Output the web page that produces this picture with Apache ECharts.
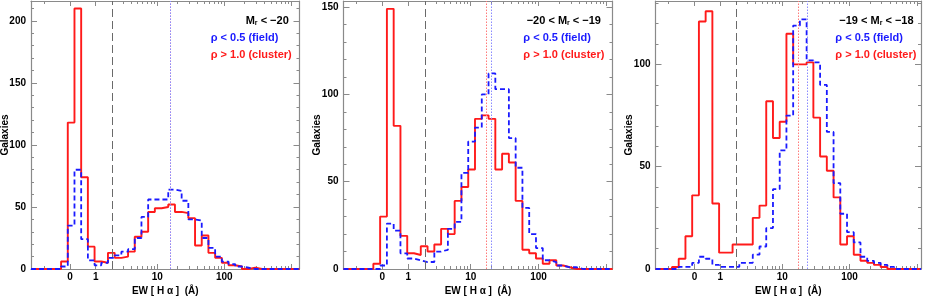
<!DOCTYPE html>
<html><head><meta charset="utf-8">
<script src="https://cdn.jsdelivr.net/npm/echarts@6/dist/echarts.min.js"></script>
<style>html,body{margin:0;padding:0;background:#fff}#c{width:926px;height:297px}</style>
</head><body><div id="c"></div>
<script>
// x axis is asinh(EW); histogram bins are uniform in asinh(EW)
const binStart = -1.227;
const binWidth = 0.23;
const labelEW = [0, 1, 10, 100];
const majorTickEW = [0, 1, 10, 100, 1000];
const minorTickEW = [-1, 2, 3, 4, 5, 6, 7, 8, 9, 20, 30, 40, 50, 60, 70, 80, 90, 200, 300, 400, 500, 600, 700, 800, 900];
const yLabels = [[0, 50, 100, 150, 200], [0, 50, 100, 150], [0, 50, 100]];
const yMax = [216, 153.5, 131];
const xRange = [[-1.34, 7.88], [-1.32, 7.81], [-1.33, 7.74]];

const red1  = [0,0,0,0, 6,118,210,74,18,6,5,13,9,10, 14,26,30,46,49,50,52,46,45,41, 19,27,13,9,5,3,2,0,1,0, 0,0,0,0,0];
const blue1 = [0,0,0,0, 2,35,80,24,7,3,5,9,11,14, 16,25,42,56,56,56,64,63,55,40, 39,25,17,10,6,4,2,1,0,0, 0,0,0,0,0];
const red2  = [0,0,0,0, 3,30,149,82,19,9,8,13,10,14, 23,20,39,47,57,86,88,86,57,66, 61,39,11,9,6,3,5,2,1,0, 0,0,0,0,0];
const blue2 = [0,0,0,0, 0,2,26,22,9,6,5,4,4,10, 11,23,27,55,73,81,100,112,103,103, 75,58,35,20,12,5,4,2,1,1, 0,0,0,0,0];
const red3  = [0,0,1,5, 16,36,121,126,32,8,8,12,12,12, 25,31,82,64,72,115,100,100,101,74, 55,48,35,12,16,7,4,3,2,1, 0,0,0,0,0];
const blue3 = [0,0,0,1, 1,3,6,5,2,1,1,1,3,3, 7,11,20,39,58,75,119,122,102,101, 90,67,42,27,18,13,6,4,3,2, 1,0,0,0,0];

const thresholdEW = 2;
const medianRed = [15.4, 16.7, 17.4];
const medianBlue = [15.8, 20.5, 23.9];

const magLabels = [['', ' < −20'], ['−20 <', ' < −19'], ['−19 <', ' < −18']];
const fieldLabel = 'ρ < 0.5 (field)';
const clusterLabel = 'ρ > 1.0 (cluster)';

const grids = [
  {left: 31, top: 1, width: 268.5, height: 268},
  {left: 343.5, top: 1, width: 269, height: 268},
  {left: 655.5, top: 1, width: 265.5, height: 268}
].map(g => Object.assign(g, {containLabel: false, outerBoundsMode: 'none'}));
const textPos = [
  {mx: 245.7, rx: 210.7},
  {mx: 526.7, rx: 523.3},
  {mx: 839.3, rx: 835.3}
];

const FONT = '"Liberation Sans", Arial, Helvetica, sans-serif';
const AX = '#8a8a8a';
const ash = Math.asinh;

function xAxes(g) {
  const r = xRange[g];
  const base = {gridIndex: g, type: 'value', min: r[0], max: r[1], splitLine: {show: false}};
  const tickStyle = {color: AX, width: 1};
  return [
    Object.assign({}, base, {
      position: 'bottom',
      axisLine: {show: true, onZero: false, lineStyle: {color: AX, width: 1.2}},
      axisTick: {show: true, inside: true, length: 5, customValues: majorTickEW.map(ash), lineStyle: tickStyle},
      axisLabel: {show: true, customValues: labelEW.map(ash), margin: 3, color: '#000', fontWeight: 'bold', fontSize: 10, fontFamily: FONT,
        formatter: v => String(Math.round(Math.sinh(v)))},
      name: 'EW [ H α ]  (Å)', nameLocation: 'middle', nameGap: 17, nameMoveOverlap: false,
      nameTextStyle: {color: '#000', fontWeight: 'bold', fontSize: 10, fontFamily: FONT}
    }),
    Object.assign({}, base, {
      position: 'bottom', axisLine: {show: false, onZero: false},
      axisTick: {show: true, inside: true, length: 3, customValues: minorTickEW.map(ash), lineStyle: tickStyle},
      axisLabel: {show: false}
    }),
    Object.assign({}, base, {
      position: 'top',
      axisLine: {show: true, onZero: false, lineStyle: {color: AX, width: 1.2}},
      axisTick: {show: true, inside: true, length: 5, customValues: majorTickEW.map(ash), lineStyle: tickStyle},
      axisLabel: {show: false}
    }),
    Object.assign({}, base, {
      position: 'top', axisLine: {show: false, onZero: false},
      axisTick: {show: true, inside: true, length: 3, customValues: minorTickEW.map(ash), lineStyle: tickStyle},
      axisLabel: {show: false}
    })
  ];
}

function yAxes(g) {
  const majors = yLabels[g];
  const minors = [];
  for (let v = 10; v < yMax[g]; v += 10) if (v % 50 !== 0) minors.push(v);
  const base = {gridIndex: g, type: 'value', min: 0, max: yMax[g], splitLine: {show: false}};
  const tickStyle = {color: AX, width: 1};
  return [
    Object.assign({}, base, {
      position: 'left',
      axisLine: {show: true, onZero: false, lineStyle: {color: AX, width: 1.2}},
      axisTick: {show: true, inside: true, length: 6, customValues: majors, lineStyle: tickStyle},
      axisLabel: {show: true, customValues: majors, margin: 5, color: '#000', fontWeight: 'bold', fontSize: 10, fontFamily: FONT},
      name: 'Galaxies', nameLocation: 'middle', nameGap: 21, nameMoveOverlap: false,
      nameTextStyle: {color: '#000', fontWeight: 'bold', fontSize: 10, fontFamily: FONT}
    }),
    Object.assign({}, base, {
      position: 'left', axisLine: {show: false, onZero: false},
      axisTick: {show: true, inside: true, length: 3, customValues: minors, lineStyle: tickStyle},
      axisLabel: {show: false}
    }),
    Object.assign({}, base, {
      position: 'right',
      axisLine: {show: true, onZero: false, lineStyle: {color: AX, width: 1.2}},
      axisTick: {show: true, inside: true, length: 6, customValues: majors, lineStyle: tickStyle},
      axisLabel: {show: false}
    }),
    Object.assign({}, base, {
      position: 'right', axisLine: {show: false, onZero: false},
      axisTick: {show: true, inside: true, length: 3, customValues: minors, lineStyle: tickStyle},
      axisLabel: {show: false}
    })
  ];
}

function histPoints(counts, g) {
  const r = xRange[g];
  const pts = [[r[0], 0]];
  counts.forEach((c, i) => pts.push([binStart + i * binWidth, c]));
  pts.push([binStart + counts.length * binWidth, 0]);
  pts.push([r[1], 0]);
  return pts;
}

const reds = [red1, red2, red3];
const blues = [blue1, blue2, blue3];
const series = [];
const xAxis = [], yAxis = [];
const graphic = [];
for (let g = 0; g < 3; g++) {
  xAxis.push(...xAxes(g));
  yAxis.push(...yAxes(g));
  series.push({
    type: 'line', step: 'end', xAxisIndex: 4 * g, yAxisIndex: 4 * g,
    data: histPoints(reds[g], g), showSymbol: false, symbol: 'none', clip: true, z: 3,
    lineStyle: {color: '#ff1a1a', width: 1.9},
    markLine: {silent: true, symbol: 'none', label: {show: false}, animation: false,
      data: [
        {xAxis: ash(thresholdEW), lineStyle: {color: '#6a6a6a', width: 1, type: [8, 4]}},
        {xAxis: ash(medianRed[g]), lineStyle: {color: '#ff7a7a', width: 1, type: [1.5, 1.5]}}
      ]}
  });
  series.push({
    type: 'line', step: 'end', xAxisIndex: 4 * g, yAxisIndex: 4 * g,
    data: histPoints(blues[g], g), showSymbol: false, symbol: 'none', clip: true, z: 4,
    lineStyle: {color: '#1a1aff', width: 1.8, type: [5, 3]},
    markLine: {silent: true, symbol: 'none', label: {show: false}, animation: false,
      data: [
        {xAxis: ash(medianBlue[g]), lineStyle: {color: '#8a8aff', width: 1, type: [1.5, 1.5]}}
      ]}
  });
  const ml = magLabels[g];
  const rich = {
    a: {fontSize: 11, fontWeight: 'bold', fontFamily: FONT, fill: '#000'},
    s: {fontSize: 7, fontWeight: 'bold', fontFamily: FONT, fill: '#000', padding: [5, 0, 0, 0]}
  };
  graphic.push({type: 'text', x: textPos[g].mx, y: 21, z: 10,
    style: {text: (ml[0] ? '{a|' + ml[0] + ' M}' : '{a|M}') + '{s|r}{a|' + ml[1] + '}', rich: rich, verticalAlign: 'middle', align: 'left'}});
  graphic.push({type: 'text', x: textPos[g].rx, y: 38, z: 10,
    style: {text: fieldLabel, fill: '#1a1aff', font: 'bold 11px ' + FONT, verticalAlign: 'middle', align: 'left'}});
  graphic.push({type: 'text', x: textPos[g].rx, y: 54.5, z: 10,
    style: {text: clusterLabel, fill: '#ff1a1a', font: 'bold 11px ' + FONT, verticalAlign: 'middle', align: 'left'}});
}

const chart = echarts.init(document.getElementById('c'), null, {renderer: 'canvas'});
chart.setOption({
  animation: false,
  backgroundColor: '#fff',
  grid: grids,
  xAxis: xAxis,
  yAxis: yAxis,
  series: series,
  graphic: graphic
});
</script>
</body></html>
